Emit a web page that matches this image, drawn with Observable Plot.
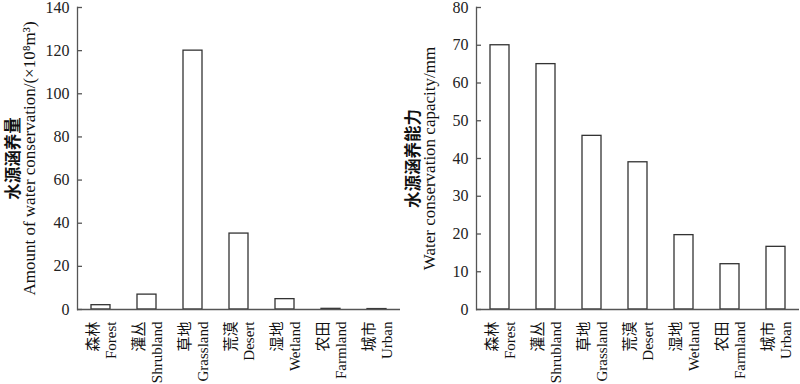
<!DOCTYPE html>
<html>
<head>
<meta charset="utf-8">
<script src="https://cdn.jsdelivr.net/npm/d3@7"></script>
<script src="https://cdn.jsdelivr.net/npm/@observablehq/plot@0.6"></script>
<style>
  html, body { margin: 0; padding: 0; background: #fff; }
  #wrap { display: flex; flex-direction: row; width: 800px; height: 384px; }
  svg { font-family: "Liberation Serif", "Noto Sans CJK SC", serif; }
</style>
</head>
<body>
<div id="wrap"></div>
<script>
const categories = ["Forest", "Shrubland", "Grassland", "Desert", "Wetland", "Farmland", "Urban"];
const categoriesZh = ["森林", "灌丛", "草地", "荒漠", "湿地", "农田", "城市"];
const amount = [2.0, 6.9, 120, 35.2, 4.8, 0.3, 0.2];
const capacity = [70, 65, 46, 39, 19.7, 12, 16.6];
const leftTicks = [0, 20, 40, 60, 80, 100, 120, 140];
const rightTicks = [0, 10, 20, 30, 40, 50, 60, 70, 80];
const leftTitleZh = "水源涵养量";
const leftTitleEn = "Amount of water conservation/(×10⁸m³)";
const rightTitleZh = "水源涵养能力";
const rightTitleEn = "Water conservation capacity/mm";

const zhOf = Object.fromEntries(categories.map((c, i) => [c, categoriesZh[i]]));

function panel(values, domain, ticks, titleZh, titleEn, marginLeft, marginRight) {
  const data = categories.map((c, i) => ({cat: c, v: values[i]}));
  return Plot.plot({
    width: 400,
    height: 384,
    marginLeft,
    marginRight,
    marginTop: 7,
    marginBottom: 75,
    style: {fontFamily: '"Liberation Serif", "Noto Sans CJK SC", serif', color: "#222", background: "#fff"},
    x: {domain: categories, paddingInner: 0.59, paddingOuter: 0.295, align: 0.5, axis: null},
    y: {domain, axis: null},
    marks: [
      Plot.barY(data, {x: "cat", y: "v", fill: "white", stroke: "#333", strokeWidth: 1.3}),
      Plot.ruleY([0], {stroke: "#555", strokeWidth: 1.3}),
      Plot.frame({anchor: "left", stroke: "#555", strokeWidth: 1.3}),
      Plot.axisY({ticks, label: null, tickSize: -5, tickPadding: 13, fontSize: 16, stroke: "#555", strokeWidth: 1.3}),
      Plot.text(categories, {
        x: d => d, text: d => zhOf[d] + "\n" + d,
        frameAnchor: "bottom", dy: 12, rotate: -90,
        textAnchor: "end", lineAnchor: "middle", lineHeight: 1.25,
        fontSize: 15, fill: "#111"
      }),
      Plot.text([titleZh], {
        frameAnchor: "left", dx: -(marginLeft - 13), rotate: -90,
        textAnchor: "middle", lineAnchor: "middle",
        fontSize: 16.5, fontWeight: "bold", fill: "#111"
      }),
      Plot.text([titleEn], {
        frameAnchor: "left", dx: -(marginLeft - 29), rotate: -90,
        textAnchor: "middle", lineAnchor: "middle",
        fontSize: 17, fill: "#111"
      })
    ]
  });
}

const wrap = document.getElementById("wrap");
wrap.append(panel(amount, [0, 140], leftTicks, leftTitleZh, leftTitleEn, 77, 0));
wrap.append(panel(capacity, [0, 80], rightTicks, rightTitleZh, rightTitleEn, 76, 1));
</script>
</body>
</html>
